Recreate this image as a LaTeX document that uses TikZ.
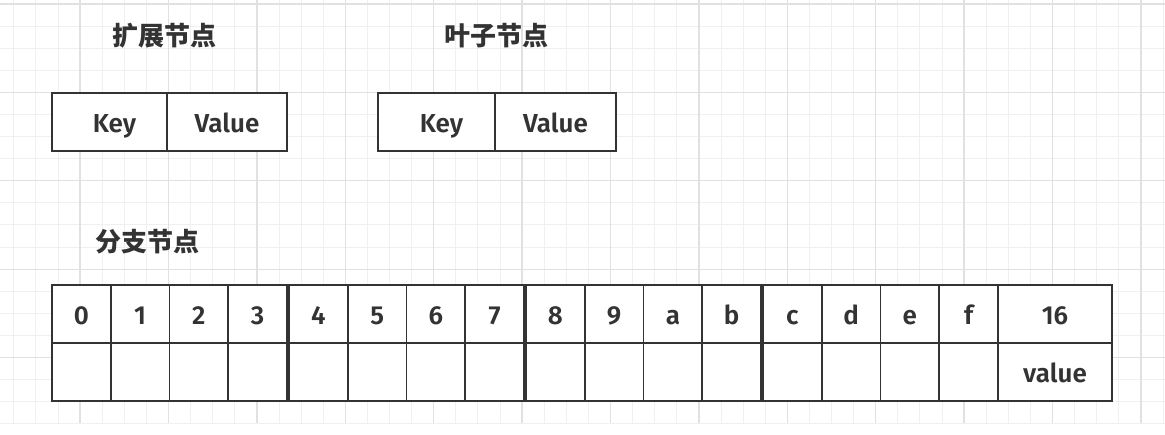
\documentclass[tikz,border=0pt]{standalone}
\usepackage{fontspec}
\setmainfont{Fira Sans}[BoldFont={Fira Sans SemiBold}]
\newfontfamily\cjk{Noto Sans CJK SC}
\usetikzlibrary{positioning}
\definecolor{ink}{HTML}{333333}
\definecolor{gridminor}{HTML}{F0F0F0}
\definecolor{gridmajor}{HTML}{E1E1E1}

\begin{document}
\begin{tikzpicture}[x=1pt, y=-1pt,
	every node/.style={text=ink, font=\fontsize{26}{30}\selectfont\bfseries},
	cell/.style={draw=ink, line width=1.6pt, fill=white, minimum height=58pt, inner sep=0pt, outer sep=0pt,
		text height=24pt, text depth=2pt},
	title/.style={font=\cjk\fontsize{26}{30}\selectfont\bfseries}]
				\useasboundingbox (0,0) rectangle (1165,435);

				% grid
				\foreach \i in {0,...,53} \draw[gridminor, line width=1pt] ({-8.3+\i*22.1},0) -- ({-8.3+\i*22.1},423);
				\foreach \j in {0,...,19} \draw[gridminor, line width=1pt] (0,{4+\j*22.1}) -- (1165,{4+\j*22.1});
				\foreach \i in {0,...,13} \draw[gridmajor, line width=1.3pt] ({-8.3+\i*88.4},0) -- ({-8.3+\i*88.4},423);
				\foreach \j in {0,...,4} \draw[gridmajor, line width=1.3pt] (0,{4+\j*88.4}) -- (1165,{4+\j*88.4});

				\node[title] (exttitle) at (164,36) {扩展节点};
				\node[cell, minimum width=115pt] (extkey) at (109.5,122) {\hspace{10pt}Key};
				\node[cell, minimum width=120pt, right=0pt of extkey] (extval) {Value};

				\node[title] (leaftitle) at (496,36) {叶子节点};
				\node[cell, minimum width=117pt] (leafkey) at (436.5,122) {\hspace{10pt}Key};
				\node[cell, minimum width=121pt, right=0pt of leafkey] (leafval) {Value};

				\node[title] (branchtitle) at (147.5,241.5) {分支节点};
				\foreach \lab [count=\i from 0] in {0,1,2,3,4,5,6,7,8,9,a,b,c,d,e,f}{
					\pgfmathsetmacro\cx{52+int(\i/4)*237+(mod(\i,4)+0.5)*58.75}
					\node[cell, minimum width=58.75pt] (slot\lab) at (\cx,314) {\lab};
					\node[cell, minimum width=58.75pt, below=0pt of slot\lab] (blank\lab) {};
				}
				\node[cell, minimum width=114pt, right=0pt of slotf] (slot16) {16};
				\node[cell, minimum width=114pt, below=0pt of slot16] (value16) {value};

			\end{tikzpicture}
\end{document}
